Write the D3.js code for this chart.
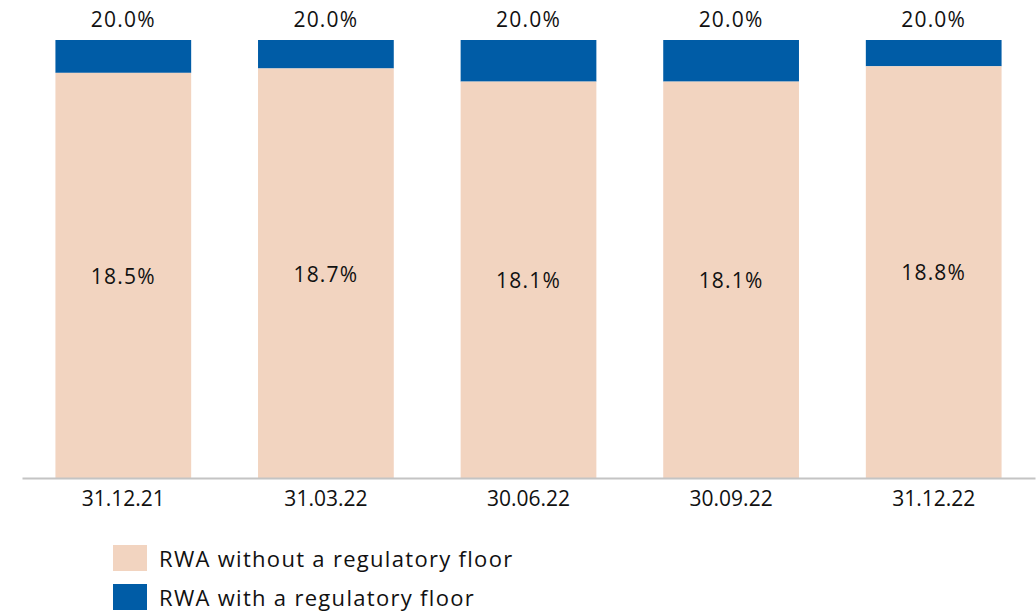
<!DOCTYPE html>
<html>
<head>
<meta charset="utf-8">
<title>RWA ratio</title>
<script src="https://cdn.jsdelivr.net/npm/d3@7"></script>
<style>
  body { margin: 0; background: #fff; font-family: "Open Sans", sans-serif; }
  text { fill: #111; }
</style>
</head>
<body>
<div id="container"></div>
<script>
// data
var dates = ["31.12.21", "31.03.22", "30.06.22", "30.09.22", "31.12.22"];
var withoutFloor = [18.5, 18.7, 18.1, 18.1, 18.8];
var withFloor = [20.0, 20.0, 20.0, 20.0, 20.0];
var seriesNames = ["RWA without a regulatory floor", "RWA with a regulatory floor"];
var colors = ["#f2d4c0", "#005ca6"];

var W = 1036, H = 612;
var svg = d3.select("#container").append("svg")
    .attr("width", W).attr("height", H);

var x = d3.scaleBand().domain(dates).range([22, 1035]).paddingInner(0.33).paddingOuter(0.165);
var y = d3.scaleLinear().domain([0, 20]).range([478, 40]);

var rows = dates.map(function(d, i) {
  return {date: d, low: withoutFloor[i], high: withFloor[i]};
});

// floor part (top)
svg.selectAll(".hi").data(rows).enter().append("rect")
    .attr("class", "hi")
    .attr("x", d => x(d.date))
    .attr("width", x.bandwidth())
    .attr("y", d => y(d.high))
    .attr("height", d => y(d.low) - y(d.high))
    .attr("fill", colors[1]);

svg.selectAll(".lo").data(rows).enter().append("rect")
    .attr("class", "lo")
    .attr("x", d => x(d.date))
    .attr("width", x.bandwidth())
    .attr("y", d => y(d.low))
    .attr("height", d => y(0) - y(d.low))
    .attr("fill", colors[0]);

// labels
svg.selectAll(".lab-lo").data(rows).enter().append("text")
    .attr("x", d => x(d.date) + x.bandwidth() / 2)
    .attr("y", d => (y(d.low) + y(0)) / 2 + 1)
    .attr("dy", "0.35em")
    .attr("text-anchor", "middle")
    .style("font-size", "21px")
    .style("letter-spacing", "1.2px")
    .text(d => d.low.toFixed(1) + "%");

svg.selectAll(".lab-hi").data(rows).enter().append("text")
    .attr("x", d => x(d.date) + x.bandwidth() / 2)
    .attr("y", d => y(d.high) - 20)
    .attr("dy", "0.35em")
    .attr("text-anchor", "middle")
    .style("font-size", "21px")
    .style("letter-spacing", "1.2px")
    .text(d => d.high.toFixed(1) + "%");

// x axis
var xAxis = d3.axisBottom(x).tickSize(0).tickPadding(13);
var gx = svg.append("g").attr("transform", "translate(0," + y(0) + ")").call(xAxis);
gx.select(".domain").attr("stroke", "#c4c4c4").attr("stroke-width", 2);
gx.selectAll(".tick text")
    .style("font-family", "'Open Sans', sans-serif")
    .style("font-size", "21px")
    .attr("fill", "#111");

// legend
var leg = svg.append("g").attr("transform", "translate(113,545)");
seriesNames.forEach(function(name, i) {
  var g = leg.append("g").attr("transform", "translate(0," + i * 39 + ")");
  g.append("rect").attr("width", 34).attr("height", 26).attr("fill", colors[i]);
  g.append("text").attr("x", 46).attr("y", 14).attr("dy", "0.35em")
    .style("font-size", "22px")
    .style("letter-spacing", "1.3px")
    .text(name);
});
</script>
</body>
</html>
